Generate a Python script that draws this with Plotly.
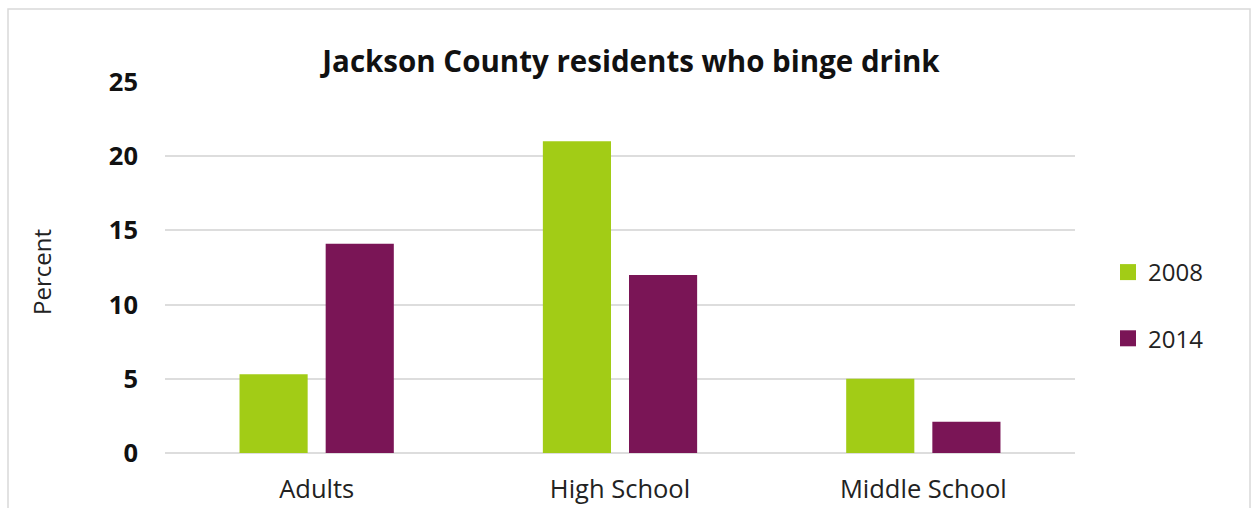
import plotly.graph_objects as go

# Data
categories = ["Adults", "High School", "Middle School"]
years = ["2008", "2014"]
pct_2008 = [5.3, 21.0, 5.0]
pct_2014 = [14.1, 12.0, 2.1]
y_ticks = [0, 5, 10, 15, 20, 25]

colors = {"2008": "#A2CC16", "2014": "#7A1556"}
series = {"2008": pct_2008, "2014": pct_2014}

W, H = 1254, 508
L, R, T, B = 165, 179, 82, 55
pw = W - L - R
ph = H - T - B

FONT = "Open Sans"

fig = go.Figure()
for yr in years:
    fig.add_trace(go.Bar(
        x=categories, y=series[yr], name=yr,
        marker=dict(color=colors[yr], line=dict(width=0)),
        showlegend=False,
    ))
    # legend swatch
    fig.add_trace(go.Scatter(
        x=[None], y=[None], mode="markers", name=yr,
        marker=dict(symbol="square", size=18, color=colors[yr]),
        legendgroup=yr, showlegend=True,
    ))

fig.update_layout(
    width=W, height=H,
    margin=dict(l=L, r=R, t=T, b=B, autoexpand=False),
    paper_bgcolor="white", plot_bgcolor="white",
    barmode="group", bargap=0.432, bargroupgap=0.209,
    font=dict(family=FONT, color="#1a1a1a"),
    title=dict(
        text="<b>Jackson County residents who binge drink</b>",
        font=dict(family=FONT, size=29.5, color="#111111"),
        x=631 / W, xref="container", xanchor="center",
        y=1 - 62 / H, yref="container", yanchor="middle",
    ),
    xaxis=dict(
        showgrid=False, showline=False, zeroline=False,
        tickfont=dict(family=FONT, size=25.5, color="#222222"),
        ticks="", ticklabelstandoff=18, automargin=False,
    ),
    yaxis=dict(
        range=[0, 25], tickvals=y_ticks,
        ticktext=[f"<b>{v}</b>" for v in y_ticks],
        showgrid=True, gridcolor="#DDDDDD", gridwidth=1.5,
        zeroline=True, zerolinecolor="#DDDDDD", zerolinewidth=1.5,
        showline=False, ticks="",
        tickfont=dict(family=FONT, size=25.5, color="#111111"),
        ticklabelstandoff=26, automargin=False,
    ),
    legend=dict(
        x=(1108 - L) / pw, xanchor="left",
        y=1 - (250 - T) / ph, yanchor="top",
        font=dict(family=FONT, size=24, color="#222222"),
        traceorder="grouped", tracegroupgap=32,
        bgcolor="rgba(0,0,0,0)",
    ),
    annotations=[dict(
        text="Percent", textangle=-90, showarrow=False,
        xref="paper", yref="paper",
        x=(41 - L) / pw, y=1 - (272 - T) / ph,
        xanchor="center", yanchor="middle",
        font=dict(family=FONT, size=24, color="#222222"),
    )],
    shapes=[dict(
        type="rect", xref="paper", yref="paper",
        x0=(8 - L) / pw, x1=(1250 - L) / pw,
        y0=1 - (530 - T) / ph, y1=1 - (9 - T) / ph,
        line=dict(color="#D9D9D9", width=1.5), fillcolor="rgba(0,0,0,0)",
        layer="below",
    )],
)

fig.write_html("out.html")
